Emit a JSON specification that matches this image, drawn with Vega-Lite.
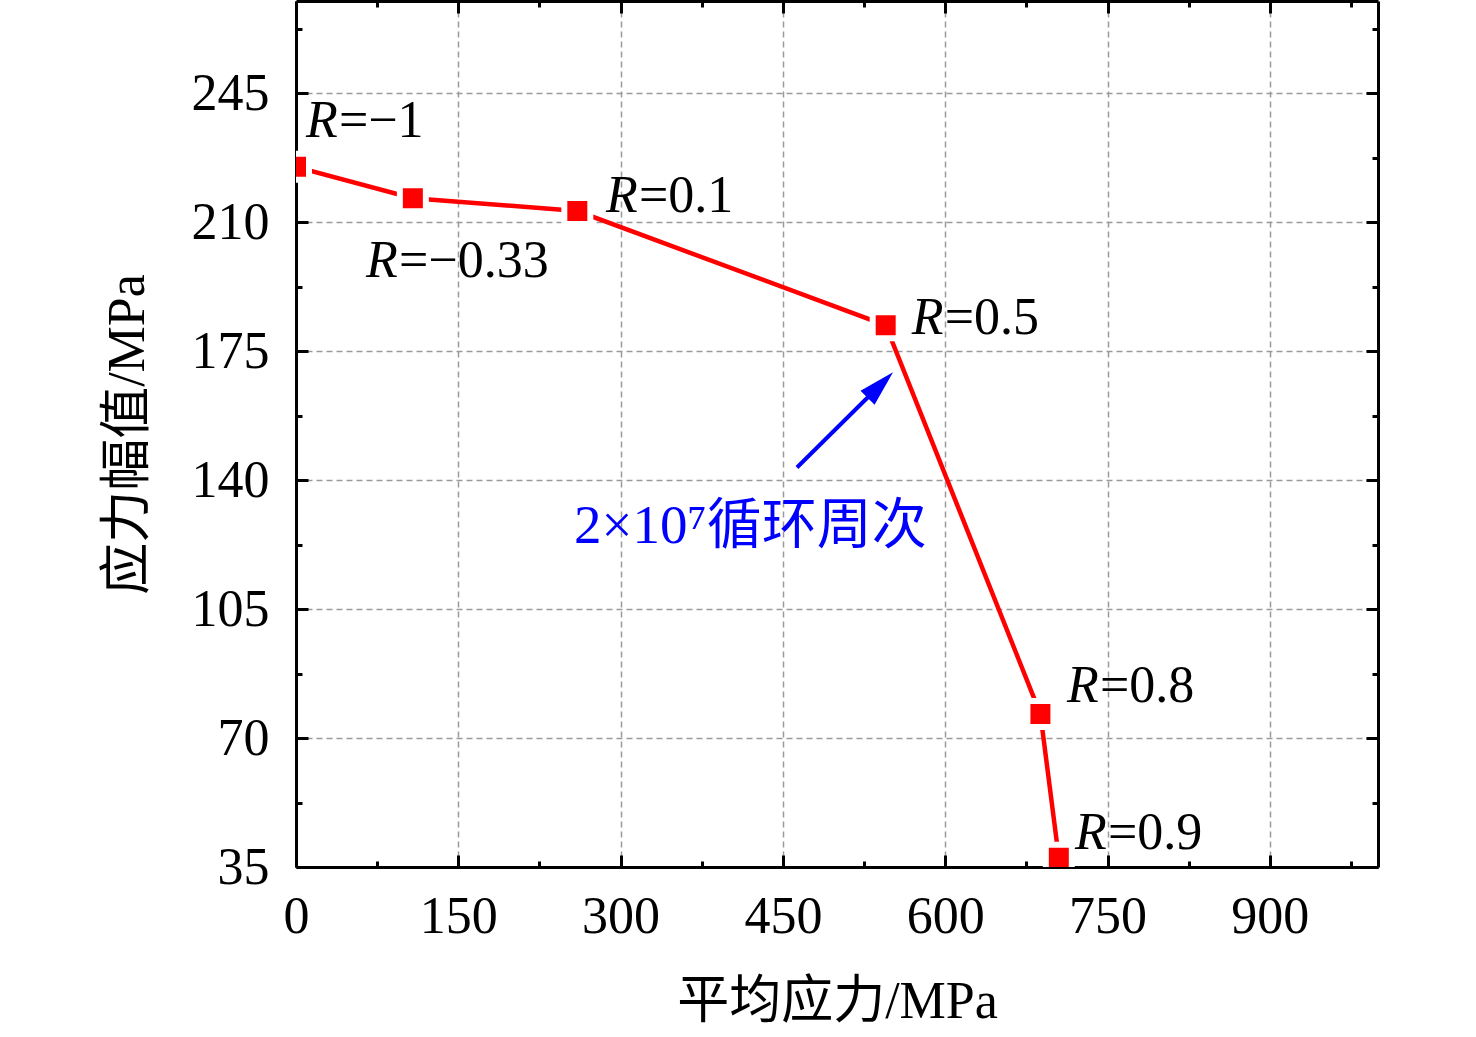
{
  "$schema": "https://vega.github.io/schema/vega-lite/v6.json",
  "width": 1082,
  "height": 866,
  "autosize": "none",
  "padding": {"left": 296, "top": 1, "right": 98, "bottom": 170},
  "background": "white",
  "datasets": {
    "curve": [
      {"mean": 0, "amp": 225},
      {"mean": 108, "amp": 216.5},
      {"mean": 260, "amp": 213},
      {"mean": 545, "amp": 182},
      {"mean": 688, "amp": 76.5},
      {"mean": 705, "amp": 37.5}
    ],
    "labels": [
      {"x": 9.2, "y": 233, "r": "=−1"},
      {"x": 64.7, "y": 195, "r": "=−0.33"},
      {"x": 286.5, "y": 212.7, "r": "=0.1"},
      {"x": 569, "y": 179.6, "r": "=0.5"},
      {"x": 712.6, "y": 79.9, "r": "=0.8"},
      {"x": 720, "y": 39.8, "r": "=0.9"}
    ],
    "arrow": [
      {"x": 463, "y": 143.4},
      {"x": 540, "y": 165.8}
    ],
    "head": [{"x": 540, "y": 165.8}],
    "note": [{"x": 257, "y": 123, "text": "2×10⁷循环周次"}]
  },
  "layer": [
    {
      "data": {"name": "curve"},
      "mark": {"type": "line", "color": "#ff0000", "strokeWidth": 4.5, "clip": true},
      "encoding": {
        "x": {
          "field": "mean",
          "type": "quantitative",
          "scale": {"domain": [0, 1000], "nice": false, "zero": false},
          "axis": {
            "orient": "bottom",
            "values": [0, 75, 150, 225, 300, 375, 450, 525, 600, 675, 750, 825, 900, 975],
            "labelExpr": "datum.value % 150 === 0 ? datum.label : ''",
            "title": "平均应力/MPa",
            "grid": true,
            "gridColor": "#9a9a9a",
            "gridDash": [6, 4],
            "gridWidth": 1.5,
            "gridOpacity": {"condition": {"test": "datum.value % 150 === 0 && datum.value > 0", "value": 1}, "value": 0},
            "tickSize": {"condition": {"test": "datum.value % 150 === 0", "value": -12}, "value": -6},
            "labelPadding": 36,
            "titleX": 541,
            "titleY": 134,
            "titleBaseline": "middle",
            "titleAlign": "center"
          }
        },
        "y": {
          "field": "amp",
          "type": "quantitative",
          "scale": {"domain": [35, 270], "nice": false, "zero": false},
          "axis": {
            "orient": "left",
            "values": [35, 52.5, 70, 87.5, 105, 122.5, 140, 157.5, 175, 192.5, 210, 227.5, 245, 262.5],
            "labelExpr": "datum.value % 35 === 0 ? datum.label : ''",
            "title": "应力幅值/MPa",
            "grid": true,
            "gridColor": "#9a9a9a",
            "gridDash": [6, 4],
            "gridWidth": 1.5,
            "gridOpacity": {"condition": {"test": "datum.value % 35 === 0 && datum.value > 35", "value": 1}, "value": 0},
            "tickSize": {"condition": {"test": "datum.value % 35 === 0", "value": -12}, "value": -6},
            "labelPadding": 39,
            "titleAngle": -90,
            "titleX": -169,
            "titleY": 433,
            "titleBaseline": "middle",
            "titleAlign": "center"
          }
        }
      }
    },
    {
      "data": {"name": "curve"},
      "mark": {"type": "point", "shape": "square", "filled": true, "size": 676, "fill": "#ff0000", "stroke": "#ffffff", "strokeWidth": 6, "opacity": 1, "clip": true},
      "encoding": {
        "x": {
          "field": "mean",
          "type": "quantitative",
          "scale": {"domain": [0, 1000], "nice": false, "zero": false},
          "axis": {
            "orient": "top",
            "values": [0, 75, 150, 225, 300, 375, 450, 525, 600, 675, 750, 825, 900, 975],
            "labels": false,
            "title": null,
            "grid": false,
            "zindex": 1,
            "tickSize": {"condition": {"test": "datum.value % 150 === 0", "value": -12}, "value": -6}
          }
        },
        "y": {
          "field": "amp",
          "type": "quantitative",
          "scale": {"domain": [35, 270], "nice": false, "zero": false},
          "axis": {
            "orient": "right",
            "values": [35, 52.5, 70, 87.5, 105, 122.5, 140, 157.5, 175, 192.5, 210, 227.5, 245, 262.5],
            "labels": false,
            "title": null,
            "grid": false,
            "zindex": 1,
            "tickSize": {"condition": {"test": "datum.value % 35 === 0", "value": -12}, "value": -6}
          }
        }
      }
    },
    {
      "data": {"name": "labels"},
      "mark": {"type": "text", "align": "left", "baseline": "alphabetic", "fontStyle": "italic", "fontSize": 52, "font": "Liberation Serif", "color": "#000000"},
      "encoding": {
        "x": {"field": "x", "type": "quantitative", "axis": null, "scale": {"domain": [0, 1000], "nice": false, "zero": false}},
        "y": {"field": "y", "type": "quantitative", "axis": null, "scale": {"domain": [35, 270], "nice": false, "zero": false}},
        "text": {"value": "R"}
      }
    },
    {
      "data": {"name": "labels"},
      "mark": {"type": "text", "align": "left", "baseline": "alphabetic", "dx": 33, "fontSize": 52, "font": "Liberation Serif", "color": "#000000"},
      "encoding": {
        "x": {"field": "x", "type": "quantitative", "axis": null, "scale": {"domain": [0, 1000], "nice": false, "zero": false}},
        "y": {"field": "y", "type": "quantitative", "axis": null, "scale": {"domain": [35, 270], "nice": false, "zero": false}},
        "text": {"field": "r", "type": "nominal"}
      }
    },
    {
      "data": {"name": "arrow"},
      "mark": {"type": "line", "color": "#0000ff", "strokeWidth": 4},
      "encoding": {
        "x": {"field": "x", "type": "quantitative", "axis": null, "scale": {"domain": [0, 1000], "nice": false, "zero": false}},
        "y": {"field": "y", "type": "quantitative", "axis": null, "scale": {"domain": [35, 270], "nice": false, "zero": false}}
      }
    },
    {
      "data": {"name": "head"},
      "mark": {"type": "point", "shape": "M0,-1L0.55,1L-0.55,1Z", "filled": true, "size": 1300, "color": "#0000ff", "opacity": 1, "angle": 45},
      "encoding": {
        "x": {"field": "x", "type": "quantitative", "axis": null, "scale": {"domain": [0, 1000], "nice": false, "zero": false}},
        "y": {"field": "y", "type": "quantitative", "axis": null, "scale": {"domain": [35, 270], "nice": false, "zero": false}}
      }
    },
    {
      "data": {"name": "note"},
      "mark": {"type": "text", "align": "left", "baseline": "alphabetic", "fontSize": 55, "font": "Liberation Serif, Noto Sans CJK SC", "color": "#0000ff"},
      "encoding": {
        "x": {"field": "x", "type": "quantitative", "axis": null, "scale": {"domain": [0, 1000], "nice": false, "zero": false}},
        "y": {"field": "y", "type": "quantitative", "axis": null, "scale": {"domain": [35, 270], "nice": false, "zero": false}},
        "text": {"field": "text", "type": "nominal"}
      }
    }
  ],
  "resolve": {"axis": {"x": "independent", "y": "independent"}},
  "config": {
    "view": {"stroke": null},
    "axis": {
      "domain": true,
      "domainColor": "#000000",
      "domainWidth": 3,
      "tickColor": "#000000",
      "tickWidth": 3,
      "labelFont": "Liberation Serif",
      "labelFontSize": 52,
      "labelColor": "#000000",
      "labelFlush": false,
      "labelOverlap": false,
      "labelBound": false,
      "titleFont": "Liberation Serif, Noto Sans CJK SC",
      "titleFontSize": 52,
      "titleFontWeight": "normal",
      "titleColor": "#000000"
    }
  }
}
